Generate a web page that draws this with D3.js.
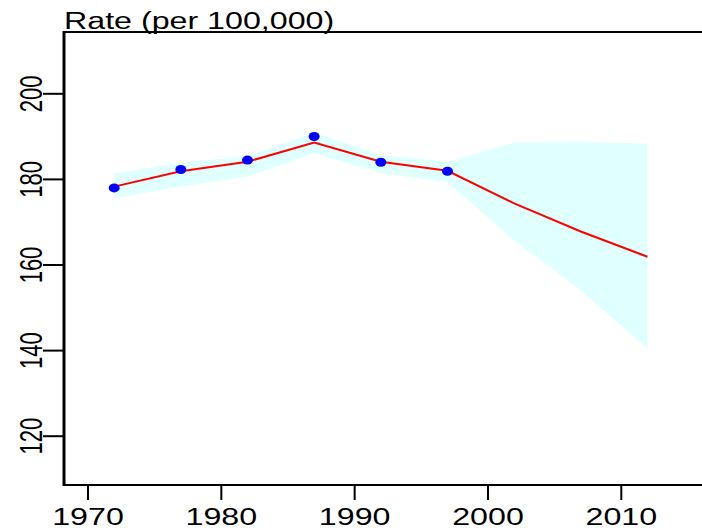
<!DOCTYPE html>
<html>
<head>
<meta charset="utf-8">
<script src="https://cdn.jsdelivr.net/npm/d3@7"></script>
<style>
  html, body { margin: 0; padding: 0; background: #fff; }
  svg { display: block; font-family: "Liberation Sans", Arial, sans-serif; }
</style>
</head>
<body>
<svg id="chart" width="702" height="530"></svg>
<script>
// Observed rates (blue points)
const obsYears = [1972, 1977, 1982, 1987, 1992, 1997];
const observed = [177.9, 182.2, 184.4, 189.9, 183.9, 181.8];

// Fitted / projected rates (red line) with uncertainty band
const fitYears = [1972, 1977, 1982, 1987, 1992, 1997, 2002, 2007, 2012];
const fitted   = [178.2, 181.8, 184.0, 188.5, 184.0, 181.9, 174.3, 167.7, 161.8];
const lower    = [175.5, 178.2, 180.5, 186.0, 181.3, 179.3, 165.6, 153.9, 140.4];
const upper    = [181.3, 183.8, 185.3, 190.8, 185.6, 184.0, 188.5, 188.6, 188.2];

const xTicks = [1970, 1980, 1990, 2000, 2010];
const yTicks = [120, 140, 160, 180, 200];
const yTitle = "Rate (per 100,000)";

(function () {
const svg = d3.select("#chart");
const mLeft = 64, mRight = 702, mTop = 32, mBottom = 485;
const sx = 1.4; // horizontal stretch of the reference picture

const x = d3.scaleLinear().domain([1970, 2010]).range([87.5, 620.8]);
const y = d3.scaleLinear().domain([120, 200]).range([435.7, 93.3]);

const band = fitYears.map((yr, i) => ({yr, lo: lower[i], hi: upper[i], f: fitted[i]}));

// uncertainty band
svg.append("path")
  .datum(band)
  .attr("fill", "#e0ffff")
  .attr("d", d3.area().x(d => x(d.yr)).y0(d => y(d.lo)).y1(d => y(d.hi)));

// fitted line
svg.append("path")
  .datum(band)
  .attr("fill", "none")
  .attr("stroke", "#ff0000")
  .attr("stroke-width", 2)
  .attr("d", d3.line().x(d => x(d.yr)).y(d => y(d.f)));

// observed points
svg.selectAll("ellipse.pt")
  .data(obsYears.map((yr, i) => ({yr, v: observed[i]})))
  .join("ellipse")
  .attr("class", "pt")
  .attr("cx", d => x(d.yr))
  .attr("cy", d => y(d.v))
  .attr("rx", 5.5)
  .attr("ry", 4.5)
  .attr("fill", "#0000ff");

// frame lines (top, left, bottom)
const frame = svg.append("g").attr("stroke", "#000");
frame.append("line").attr("x1", mLeft).attr("x2", mRight).attr("y1", mTop).attr("y2", mTop).attr("stroke-width", 2);
frame.append("line").attr("x1", mLeft).attr("x2", mRight).attr("y1", mBottom).attr("y2", mBottom).attr("stroke-width", 2);
frame.append("line").attr("x1", mLeft).attr("x2", mLeft).attr("y1", mTop - 1).attr("y2", mBottom + 1).attr("stroke-width", 3);

// x axis
const gx = svg.append("g")
  .attr("transform", `translate(0,${mBottom})`)
  .call(d3.axisBottom(x).tickValues(xTicks).tickFormat(d3.format("d")).tickSize(15).tickSizeOuter(0));
gx.select(".domain").remove();
gx.selectAll(".tick line").attr("stroke", "#000").attr("stroke-width", 2);
gx.selectAll(".tick text")
  .attr("y", 40).attr("dy", 0)
  .attr("font-size", 23)
  .attr("fill", "#000")
  .attr("transform", `scale(${sx},1)`);

// y axis
const gy = svg.append("g")
  .attr("transform", `translate(${mLeft},0)`)
  .call(d3.axisLeft(y).tickValues(yTicks).tickFormat(d3.format("d")).tickSize(21).tickSizeOuter(0));
gy.select(".domain").remove();
gy.selectAll(".tick line").attr("stroke", "#000").attr("stroke-width", 2);
gy.selectAll(".tick text")
  .attr("x", null).attr("dy", null)
  .attr("text-anchor", "middle")
  .attr("font-size", 22)
  .attr("fill", "#000")
  .attr("transform", `translate(-22,0) scale(${sx},1) rotate(-90)`);

// axis title
svg.append("text")
  .attr("transform", `translate(${mLeft},29) scale(${sx},1)`)
  .attr("font-size", 23)
  .attr("fill", "#000")
  .text(yTitle);
})();
</script>
</body>
</html>
